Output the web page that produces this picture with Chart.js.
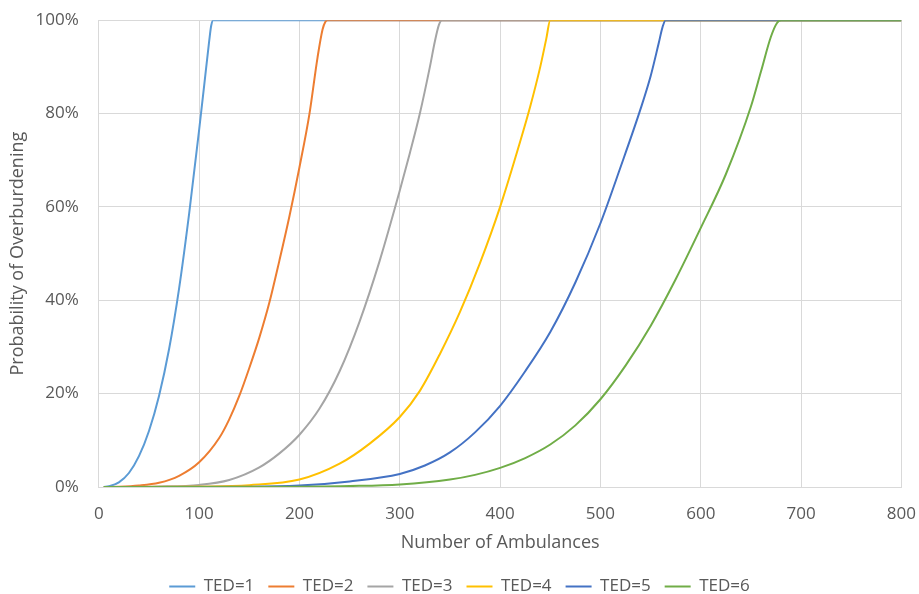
<!DOCTYPE html>
<html>
<head>
<meta charset="utf-8">
<script src="https://cdn.jsdelivr.net/npm/chart.js@4.4.1/dist/chart.umd.min.js"></script>
<style>
  body { margin: 0; background: #fff; }
</style>
</head>
<body>
<canvas id="myChart" width="919" height="594"></canvas>
<script>
// series names and colours (Excel office palette)
var seriesNames = ["TED=1", "TED=2", "TED=3", "TED=4", "TED=5", "TED=6"]
var seriesColors = ["#5B9BD5", "#ED7D31", "#A5A5A5", "#FFC000", "#4472C4", "#70AD47"]

// number of ambulances (x) and probability of overburdening in % (y)
var ted1X = [5, 10, 20, 30, 40, 50, 60, 70, 80, 90, 100, 105, 110, 112, 114, 800]
var ted1Y = [0, 0.15, 1.0, 3.0, 6.6, 12, 19.5, 29.5, 42.5, 58.5, 76.5, 86, 95.5, 98.8, 100, 100]

var ted2X = [5, 20, 40, 60, 80, 100, 120, 130, 140, 150, 160, 170, 180, 190, 200, 210, 218, 223, 226, 228, 800]
var ted2Y = [0, 0.05, 0.3, 0.9, 2.4, 5.3, 10.5, 14.5, 19.5, 25.5, 32, 39.5, 48.5, 58, 68.5, 80, 92, 98, 99.7, 100, 100]

var ted3X = [5, 60, 100, 130, 160, 180, 200, 220, 240, 260, 280, 300, 310, 320, 330, 335, 339, 342, 800]
var ted3Y = [0, 0.1, 0.45, 1.5, 4.2, 7.2, 11.2, 16.8, 24.8, 35.5, 48.5, 63.5, 71.5, 80, 90, 95.5, 99, 100, 100]

var ted4X = [5, 100, 150, 200, 240, 270, 300, 320, 340, 360, 380, 400, 420, 430, 440, 446, 450, 800]
var ted4Y = [0, 0.1, 0.4, 1.6, 5, 9.3, 15, 20.6, 28.5, 37.5, 48, 60, 74, 81.5, 90, 96, 100, 100]

var ted5X = [5, 150, 200, 250, 300, 325, 350, 375, 400, 425, 450, 475, 500, 520, 540, 550, 558, 562, 565, 800]
var ted5Y = [0, 0.05, 0.3, 1.2, 2.8, 4.6, 7.4, 11.7, 17.4, 24.8, 33.2, 43.8, 56.5, 68.5, 81, 88, 95, 98.6, 100, 100]

var ted6X = [5, 150, 200, 250, 300, 350, 375, 400, 425, 450, 475, 500, 525, 550, 575, 600, 625, 650, 660, 670, 676, 680, 800]
var ted6Y = [0, 0.02, 0.06, 0.2, 0.55, 1.6, 2.6, 4.1, 6.2, 9.1, 13.2, 18.8, 26, 34.5, 44.5, 55.5, 67, 81.5, 89, 96.5, 99.4, 100, 100]

var allX = [ted1X, ted2X, ted3X, ted4X, ted5X, ted6X]
var allY = [ted1Y, ted2Y, ted3Y, ted4Y, ted5Y, ted6Y]

var textColor = "#595959"
var gridColor = "#d9d9d9"
var fontName = "'Open Sans', 'Noto Sans', sans-serif"

var datasets = []
for (let i = 0; i < seriesNames.length; i++) {
  let pts = []
  for (let j = 0; j < allX[i].length; j++) {
    pts.push({ x: allX[i][j], y: allY[i][j] })
  }
  datasets.push({
    label: seriesNames[i],
    data: pts,
    borderColor: seriesColors[i],
    backgroundColor: seriesColors[i],
    borderWidth: 2,
    pointRadius: 0,
    fill: false,
    cubicInterpolationMode: 'monotone',
    order: seriesNames.length - i   // later series on top, like Excel
  })
}

const config = {
  type: 'line',
  data: { datasets: datasets },
  options: {
    responsive: false,
    animation: false,
    layout: { padding: { top: 4, right: 0, left: 0, bottom: -11 } },
    plugins: {
      tooltip: { enabled: false },
      legend: {
        position: 'bottom',
        labels: {
          usePointStyle: true,
          pointStyle: 'line',
          pointStyleWidth: 26,
          color: textColor,
          font: { family: fontName, size: 17 },
          padding: 14,
          sort: function (a, b) { return a.datasetIndex - b.datasetIndex }
        }
      }
    },
    scales: {
      x: {
        type: 'linear',
        min: 0,
        max: 800,
        ticks: { stepSize: 100, color: textColor, font: { family: fontName, size: 17 }, padding: 3, maxRotation: 0 },
        // invisible tick marks give the label gap without widening the side padding
        grid: { color: gridColor, drawTicks: true, tickLength: 14, tickColor: 'rgba(0,0,0,0)', lineWidth: 1 },
        border: { color: gridColor },
        title: { display: true, text: 'Number of Ambulances', color: textColor, font: { family: fontName, size: 18 }, padding: { top: 5, bottom: 10 } }
      },
      y: {
        min: 0,
        max: 100,
        ticks: {
          stepSize: 20, color: textColor, font: { family: fontName, size: 17 }, padding: 10,
          callback: function (v) { return v + '%' }
        },
        grid: { color: gridColor, drawTicks: true, tickLength: 10, tickColor: 'rgba(0,0,0,0)', lineWidth: 1 },
        border: { color: gridColor },
        title: { display: true, text: 'Probability of Overburdening', color: textColor, font: { family: fontName, size: 18 }, padding: { top: 7, bottom: -3 } }
      }
    }
  }
}

const myChart = new Chart(document.getElementById('myChart'), config)
</script>
</body>
</html>
